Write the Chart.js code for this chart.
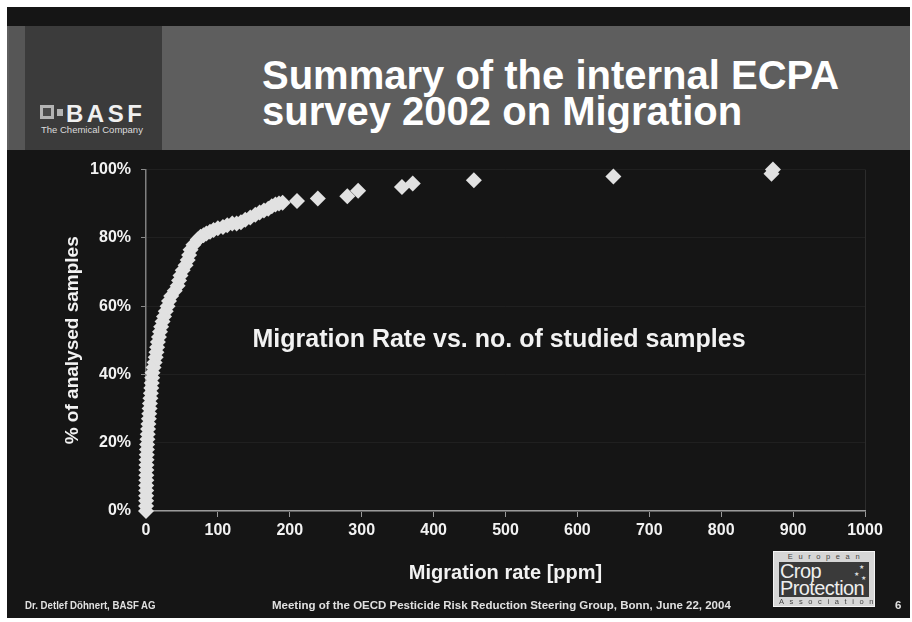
<!DOCTYPE html>
<html>
<head>
<meta charset="utf-8">
<script src="https://cdn.jsdelivr.net/npm/chart.js@4/dist/chart.umd.min.js"></script>
<style>
  body { margin: 0; background: #fff; width: 912px; height: 622px; position: relative; overflow: hidden; font-family: "Liberation Sans", Arial, sans-serif; }
  .slide { position: absolute; left: 7px; top: 7px; width: 903px; height: 611px; background: #151515; }
  .header { position: absolute; left: 7px; top: 26px; width: 903px; height: 124px; background: #5e5e5e; }
  .strip { position: absolute; left: 2px; top: 0; width: 16px; height: 124px; background: #565656; }
  .logobox { position: absolute; left: 18px; top: 0; width: 137px; height: 124px; background: #3b3b3b; }
  .sq1 { position: absolute; left: 15px; top: 79px; width: 8px; height: 8px; border: 3px solid #b4b4b4; background: #4a4a4a; }
  .sq2 { position: absolute; left: 32px; top: 83px; width: 6px; height: 7px; background: #b4b4b4; }
  .basf { position: absolute; left: 41px; top: 74px; font-weight: bold; font-size: 24px; letter-spacing: 3.5px; color: #f0f0f0; }
  .tcc { position: absolute; left: 16px; top: 98px; font-size: 9.5px; color: #dcdcdc; white-space: nowrap; }
  .title { position: absolute; left: 255px; top: 31px; font-weight: bold; font-size: 40px; line-height: 36px; color: #fff; white-space: nowrap; }
  #wrap { position: absolute; left: 7px; top: 150px; width: 903px; height: 455px; }
  .foot { position: absolute; top: 599px; font-weight: bold; font-size: 11.5px; color: #e0e0e0; white-space: nowrap; transform-origin: left top; }
  .ecpa { position: absolute; left: 773px; top: 551px; width: 100px; height: 54px; background: #d6d6d6; border: 1px solid #f4f4f4; }
  .ecpa .inner { position: absolute; left: 5px; top: 10px; width: 90px; height: 35px; background: #3a3a3a; overflow: hidden; }
  .ecpa .big { position: absolute; left: 1px; color: #eee; font-size: 20px; line-height: 18px; letter-spacing: -0.6px; }
  .ecpa .small { position: absolute; left: 0; width: 100px; text-align: center; font-size: 7.5px; line-height: 9px; letter-spacing: 5.6px; text-indent: 5px; color: #444; }
  .ecpa .star { position: absolute; color: #ddd; font-size: 6px; }
</style>
</head>
<body>
<div class="slide"></div>
<div class="header">
  <div class="strip"></div>
  <div class="logobox">
    <div class="sq1"></div>
    <div class="sq2"></div>
    <div class="basf">BASF</div>
    <div class="tcc">The Chemical Company</div>
  </div>
  <div class="title">Summary of the internal ECPA<br>survey 2002 on Migration</div>
</div>
<div id="wrap"><canvas id="canvas"></canvas></div>
<div class="foot" style="left:25px;transform:scaleX(0.84);">Dr. Detlef Döhnert, BASF AG</div>
<div class="foot" style="left:272px;">Meeting of the OECD Pesticide Risk Reduction Steering Group, Bonn, June 22, 2004</div>
<div class="foot" style="left:895px;">6</div>
<div class="ecpa">
  <div class="small" style="top:0px;">European</div>
  <div class="inner">
    <div class="big" style="top:0px;">Crop</div>
    <div class="big" style="top:17px;">Protection</div>
    <div class="star" style="left:80px;top:1px;">★</div>
    <div class="star" style="left:75px;top:8px;">★</div>
    <div class="star" style="left:82px;top:12px;">★</div>
  </div>
  <div class="small" style="top:45px;">Association</div>
</div>
<script>
// cumulative share of analysed samples vs. migration rate
const migrationRate = [0, 0.1, 0.2, 0.2, 0.3, 0.3, 0.4, 0.4, 0.5, 0.6, 0.8, 1.0, 1.3, 1.6, 2.0, 2.4, 2.9, 3.4, 4.0, 4.5,
    5.0, 5.5, 6.2, 6.8, 7.4, 8.0, 8.6, 9.0, 10.5, 12, 13.5, 14.5, 15.5, 16.5, 18, 19.5, 21, 23, 25, 27.5,
    30, 32, 35, 40, 44, 46, 48, 51, 55, 58, 60, 62, 66, 72,
    76, 80, 84, 89, 94, 100, 107, 113, 120, 126, 132, 138, 145, 152, 158, 164, 170, 175, 180, 185, 190,
    210, 239, 280, 295, 356, 371, 456, 650, 870, 872];
const samplesPct = [0, 1.5, 3, 4.5, 6, 7.5, 9, 10.5, 12, 13.5, 15, 16.5, 18, 19.5, 21, 22.5, 24, 25.5, 27, 28.5,
    30, 31.5, 33, 34.5, 36, 37.5, 39, 40.5, 42, 43.5, 45, 46.5, 48, 49.5, 51, 52.5, 54, 55.5, 57, 58.5,
    60, 61.5, 63, 64.5, 66, 67.5, 69, 70.5, 72, 73.5, 75, 76.5, 78, 79.5,
    80.3, 80.8, 81.3, 81.8, 82.3, 82.8, 83.2, 83.7, 84.2, 84.2, 84.6, 85.3, 86.0, 86.8, 87.4, 88.0, 88.5, 89.3, 89.8, 90.1, 90.3,
    90.8, 91.5, 92.2, 93.8, 94.9, 95.9, 96.9, 98.0, 98.8, 100];
const xTicks = [0, 100, 200, 300, 400, 500, 600, 700, 800, 900, 1000];
const yTicks = [0, 20, 40, 60, 80, 100];
const noteText = 'Migration Rate vs. no. of studied samples';
const notePos = { x: 491, y: 50 };

function create() {
    const points = migrationRate.map((x, i) => ({ x: x, y: samplesPct[i] }));

    // free text inside the plot
    const notePlugin = {
        id: 'note',
        afterDatasetsDraw(chart) {
            const ctx = chart.ctx;
            ctx.save();
            ctx.font = 'bold 25px "Liberation Sans", Arial, sans-serif';
            ctx.fillStyle = '#f2f2f2';
            ctx.textAlign = 'center';
            ctx.textBaseline = 'middle';
            ctx.fillText(noteText, chart.scales.x.getPixelForValue(notePos.x), chart.scales.y.getPixelForValue(notePos.y));
            ctx.restore();
        }
    };

    Chart.defaults.font.family = '"Liberation Sans", Arial, sans-serif';
    Chart.defaults.color = '#f2f2f2';

    const config = {
        type: 'scatter',
        data: {
            datasets: [{
                data: points,
                pointStyle: 'rectRot',
                pointRadius: 8,
                pointHoverRadius: 8,
                backgroundColor: '#e1e1e1',
                borderWidth: 0,
                clip: false
            }]
        },
        options: {
            responsive: true,
            maintainAspectRatio: false,
            animation: false,
            layout: { autoPadding: false, padding: { top: 18, right: 45, left: 0, bottom: 0 } },
            plugins: { legend: { display: false }, tooltip: { enabled: false } },
            scales: {
                x: {
                    type: 'linear',
                    min: 0,
                    max: 1000,
                    afterBuildTicks: s => { s.ticks = xTicks.map(v => ({ value: v })); },
                    afterFit: s => { s.height = 94; },
                    ticks: { font: { size: 16, weight: 'bold' }, padding: 4, maxRotation: 0, callback: v => String(v) },
                    grid: {
                        color: c => (c.tick && c.tick.value === 1000) ? '#2c2c2c' : 'transparent',
                        tickColor: '#9a9a9a',
                        tickLength: 6
                    },
                    border: { color: '#9a9a9a', width: 1.5 },
                    title: { display: true, text: 'Migration rate [ppm]', font: { size: 20, weight: 'bold' }, padding: { top: 0, bottom: 20 } }
                },
                y: {
                    min: 0,
                    max: 100,
                    afterBuildTicks: s => { s.ticks = yTicks.map(v => ({ value: v })); },
                    afterFit: s => { s.width = 139; },
                    ticks: { font: { size: 16, weight: 'bold' }, padding: 10, callback: v => v + '%' },
                    grid: { color: '#202020', tickColor: '#8a8a8a', tickLength: 5 },
                    border: { color: '#808080', width: 1.5 },
                    title: { display: true, text: '% of analysed samples', font: { size: 19, weight: 'bold' }, padding: { top: 54, bottom: 0 } }
                }
            }
        },
        plugins: [notePlugin]
    };

    var canvas = document.getElementById('canvas');
    const chart = new Chart(canvas, config);
}
create();
</script>
</body>
</html>
